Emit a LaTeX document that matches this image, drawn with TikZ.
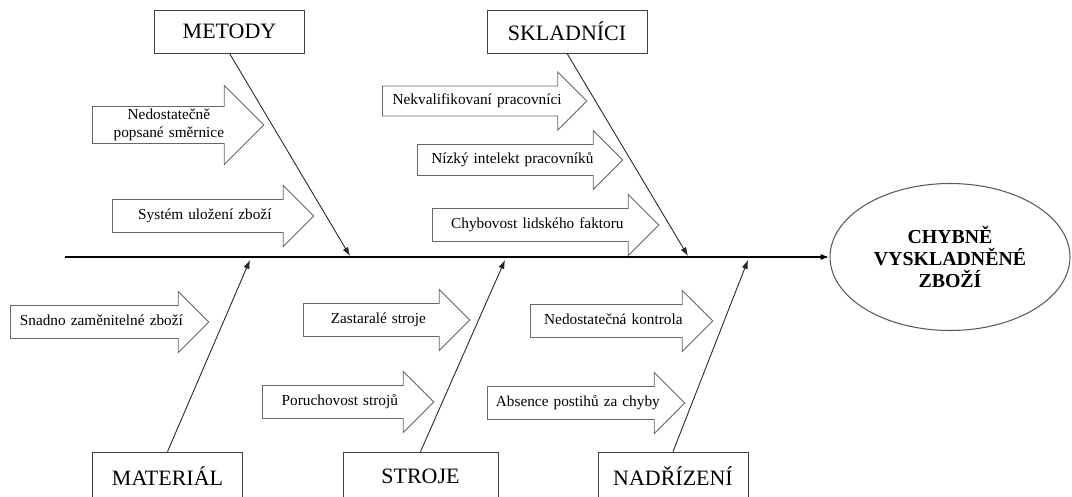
\documentclass[tikz,border=0pt]{standalone}
\usepackage{fontspec}
\setmainfont{Liberation Serif}
\usetikzlibrary{shapes.arrows, shapes.geometric, arrows.meta}

\begin{document}
\begin{tikzpicture}[x=0.02cm, y=-0.02cm,
        cat/.style={rectangle, draw=black!75, fill=white, minimum width=3cm, minimum height=0.86cm, inner sep=0pt, font=\fontsize{12.5}{15}\selectfont},
        cause/.style={single arrow, draw=black!60, line width=0.5pt, anchor=tail, single arrow head extend=0.28cm, inner xsep=0pt, inner ysep=0.18cm, text height=6pt, text depth=2pt, align=center, font=\fontsize{8.7}{10.5}\selectfont},
        effect/.style={ellipse, draw=black!65, line width=0.6pt, minimum width=4.8cm, minimum height=2.94cm, inner sep=0pt, align=center, font=\bfseries\fontsize{11.3}{12.5}\selectfont},
        spine/.style={-{Latex[length=5pt,width=3.5pt]}, line width=1.1pt},
        bone/.style={-{Latex[length=5pt,width=3.5pt]}, line width=0.5pt, draw=black!85}
    ]
        \useasboundingbox (0,0) rectangle (1072,497);

        % Effect and spine
        \node[effect] (effect) at (950,257) {CHYBNĚ\\VYSKLADNĚNÉ\\ZBOŽÍ};
        \coordinate (fishtail) at (65,257);
        \draw[spine] (fishtail) -- (effect);

        % Categories top
        \node[cat] (metody) at (229.5,31.5) {METODY};
        \node[cat, minimum width=3.2cm] (skladnici) at (567,31.5) {SKLADNÍCI};

        % Categories bottom (cut by the page edge)
        \node[cat, minimum height=0.96cm] (material) at (167.5,476) {MATERIÁL};
        \node[cat, minimum height=0.96cm, minimum width=3.1cm] (stroje) at (420.5,476) {STROJE};
        \node[cat, minimum height=0.96cm] (nadrizeni) at (673,476) {NADŘÍZENÍ};

        % Joints on the spine
        \coordinate (jmetody) at (350,256);
        \coordinate (jskladnici) at (688,256);
        \coordinate (jmaterial) at (250,260);
        \coordinate (jstroje) at (505,260);
        \coordinate (jnadrizeni) at (748,260);

        % Bones
        \draw[bone] (metody.south) -- (jmetody);
        \draw[bone] (skladnici.south) -- (jskladnici);
        \draw[bone] (material.north) -- (jmaterial);
        \draw[bone] (stroje.north) -- (jstroje);
        \draw[bone] (nadrizeni.north) -- (jnadrizeni);

        % Causes: METODY
        \node[cause, text width=3.04cm, inner ysep=0.035cm, text depth=12.5pt, single arrow head extend=0.42cm] (met1) at (92,125) {Nedostatečně\\popsané směrnice};
        \node[cause, text width=3.68cm] (met2) at (112,216) {Systém uložení zboží};

        % Causes: SKLADNÍCI
        \node[cause, text width=3.77cm, inner ysep=0.15cm] (skl1) at (382,101) {Nekvalifikovaní pracovníci};
        \node[cause, text width=3.78cm, inner ysep=0.16cm] (skl2) at (417,160) {Nízký intelekt pracovníků};
        \node[cause, text width=4.18cm] (skl3) at (432,225) {Chybovost lidského faktoru};

        % Causes: MATERIÁL, STROJE, NADŘÍZENÍ
        \node[cause, text width=3.62cm] (mat1) at (10,322) {Snadno zaměnitelné zboží};
        \node[cause, text width=2.98cm] (str1) at (303,320) {Zastaralé stroje};
        \node[cause, text width=3.08cm] (str2) at (262,402) {Poruchovost strojů};
        \node[cause, text width=3.30cm] (nad1) at (530,321) {Nedostatečná kontrola};
        \node[cause, text width=3.60cm] (nad2) at (487,403) {Absence postihů za chyby};
    \end{tikzpicture}
\end{document}
